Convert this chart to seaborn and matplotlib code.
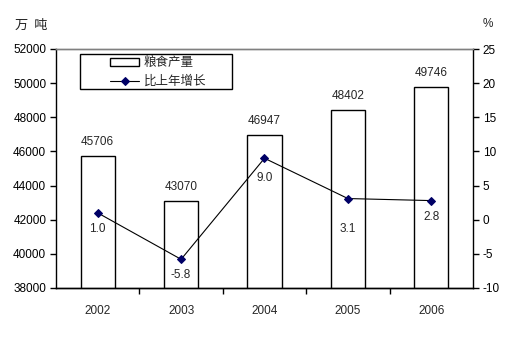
import numpy as np
import matplotlib
matplotlib.use("Agg")
import matplotlib.pyplot as plt
import seaborn as sns
from matplotlib.ticker import FixedLocator
from matplotlib.patches import Rectangle

years = ["2002", "2003", "2004", "2005", "2006"]
grain = [45706, 43070, 46947, 48402, 49746]
growth = [1.0, -5.8, 9.0, 3.1, 2.8]
growth_labels = ["1.0", "-5.8", "9.0", "3.1", "2.8"]
left_ticks = [38000, 40000, 42000, 44000, 46000, 48000, 50000, 52000]
right_ticks = [-10, -5, 0, 5, 10, 15, 20, 25]

# pixel offsets of the growth labels below their points
growth_offsets = [16, 16, 20, 30, 16]

sns.set_style("ticks")
plt.rcParams["font.family"] = ["Liberation Sans", "Noto Sans CJK SC", "DejaVu Sans"]
plt.rcParams["axes.unicode_minus"] = False
fs = 8.5

fig = plt.figure(figsize=(5.24, 3.38), dpi=100)
ax = fig.add_axes([56 / 524, 1 - 288 / 338, 417 / 524, 239 / 338])

sns.barplot(x=years, y=grain, color="white", edgecolor="black", linewidth=1,
            width=0.41, ax=ax, label="粮食产量")
ax.set_ylim(38000, 52000)
ax.set_yticks(left_ticks)
ax.set_xlim(-0.5, len(years) - 0.5)
ax.set_xlabel("")
ax.set_ylabel("")

for i, v in enumerate(grain):
    ax.annotate(str(v), (i, v), xytext=(0, 14), textcoords="offset pixels",
                ha="center", va="center", fontsize=fs)

ax2 = ax.twinx()
sns.lineplot(x=np.arange(len(years)), y=growth, ax=ax2, color="black",
             linewidth=0.8, marker="D", markersize=4.5, markerfacecolor="#000066",
             markeredgecolor="#000066", label="比上年增长")
ax2.set_ylim(-10, 25)
ax2.set_yticks(right_ticks)

for i, v in enumerate(growth):
    ax2.annotate(growth_labels[i], (i, v), xytext=(0, -growth_offsets[i]),
                 textcoords="offset pixels", ha="center", va="center", fontsize=fs)

# axes styling
for a in (ax, ax2):
    for s in ("left", "right", "bottom"):
        a.spines[s].set_color("black")
        a.spines[s].set_linewidth(1)
    a.spines["top"].set_color("#808080")
    a.spines["top"].set_linewidth(1)
ax.spines["right"].set_visible(False)
ax2.spines["left"].set_visible(False)

ax.tick_params(axis="y", direction="out", length=4, width=1, labelsize=fs, pad=3, colors="black")
ax2.tick_params(axis="y", direction="out", length=4, width=1, labelsize=fs, pad=3, colors="black")
ax.tick_params(axis="x", which="major", length=0, labelsize=fs, pad=12)
ax.xaxis.set_minor_locator(FixedLocator(np.arange(0.5, len(years) - 1, 1.0)))
ax.tick_params(axis="x", which="minor", direction="out", length=4, width=1, color="black")

# legend: own frame box, entries centred inside
h1, l1 = ax.get_legend_handles_labels()
h2, l2 = ax2.get_legend_handles_labels()
if ax.get_legend():
    ax.get_legend().remove()
if ax2.get_legend():
    ax2.get_legend().remove()
box = Rectangle((0.0576, 0.833), 0.3645, 0.146, transform=ax2.transAxes,
                facecolor="white", edgecolor="black", linewidth=1, zorder=5)
ax2.add_patch(box)
leg = ax2.legend(h1 + h2, l1 + l2, loc="center", bbox_to_anchor=(0.0576 + 0.3645 / 2 + 0.005, 0.903),
                 frameon=False, borderpad=0, labelspacing=0.45, handlelength=2.3,
                 handletextpad=0.35, prop={"family": "Noto Sans CJK SC", "size": 9})
leg.set_zorder(6)

fig.text(31 / 524, 1 - 25 / 338, "万  吨", ha="center", va="center", fontsize=9.5,
         family="Noto Sans CJK SC")
fig.text(488 / 524, 1 - 24 / 338, "%", ha="center", va="center", fontsize=fs)

fig.savefig("out.png", dpi=100, facecolor="white")
